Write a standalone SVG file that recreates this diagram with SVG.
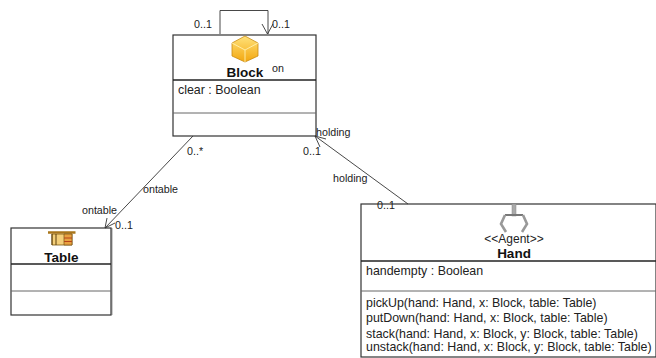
<svg xmlns="http://www.w3.org/2000/svg" width="656" height="358" viewBox="0 0 656 358">
<style>
text{font-family:"Liberation Sans",Arial,sans-serif;fill:#222}
.s{font-size:10.7px}
.m{font-size:12.4px}
.t{font-size:13.5px;font-weight:bold;text-anchor:middle;fill:#111}
.box{fill:#fff;stroke:#333;stroke-width:1.2}
.h{stroke:#222;stroke-width:1.6;fill:none}
.l{stroke:#666;stroke-width:1;fill:none}
.c{stroke:#333;stroke-width:.9;fill:none}
</style>
<defs>
<linearGradient id="cube" x1="0" y1="0" x2="0" y2="1"><stop offset="0" stop-color="#ffe27a"/><stop offset="1" stop-color="#f3a70f"/></linearGradient>
</defs>
<rect width="656" height="358" fill="#fff"/>
<g id="block">
<rect class="box" x="173" y="35" width="143" height="101"/>
<path d="M245 36L258 43V56L245 62L232 56V43Z" fill="url(#cube)" stroke="#c98c12" stroke-width=".8"/>
<path d="M232 43L245 50L258 43M245 50V62" fill="none" stroke="#fff0b0" stroke-width=".9"/>
<text class="t" x="245" y="77">Block</text>
<path class="h" d="M173 80H316"/>
<text class="m" x="178" y="94">clear : Boolean</text>
<path class="l" d="M173 113H316"/>
</g>
<g id="table">
<path d="M112 228V315" stroke="#bbb" stroke-width="1.500"/>
<rect class="box" x="11" y="228" width="100" height="87"/>
<path d="M52 234H72V245H52Z" fill="#f4cf7a" stroke="#7a5510" stroke-width=".8"/>
<path d="M48 232.500H75.500" stroke="#a9761a" stroke-width="2.500"/>
<path d="M52 234V245M56 234V245" stroke="#5c3f0a" stroke-width="1"/>
<path d="M64 234H72V245H64Z" fill="#e8a040" stroke="#7a5510" stroke-width=".7"/>
<path d="M64 238H72M64 241.500H72" stroke="#b5441a" stroke-width="1"/>
<text class="t" x="61.500" y="262">Table</text>
<path class="h" d="M11 264H111"/>
<path class="l" d="M11 291H111"/>
</g>
<g id="hand">
<rect class="box" x="361" y="204" width="295" height="153"/>
<rect x="512" y="204" width="4" height="12" fill="#aaa" stroke="#888" stroke-width=".5"/>
<path d="M505 215H523" stroke="#777" stroke-width="2"/>
<path d="M505 215L501 224L506 232M523 215L527 224L522 232" stroke="#999" stroke-width="2.600" fill="none"/>
<text x="514" y="243" font-size="12" text-anchor="middle">&lt;&lt;Agent&gt;&gt;</text>
<text class="t" x="514" y="258">Hand</text>
<path class="h" d="M361 261H656"/>
<text class="m" x="366" y="275">handempty : Boolean</text>
<path class="l" d="M361 291H656"/>
<text class="m" x="366" y="307">pickUp(hand: Hand, x: Block, table: Table)</text>
<text class="m" x="366" y="322">putDown(hand: Hand, x: Block, table: Table)</text>
<text class="m" x="366" y="338">stack(hand: Hand, x: Block, y: Block, table: Table)</text>
<text class="m" x="366" y="351">unstack(hand: Hand, x: Block, y: Block, table: Table)</text>
</g>
<g id="connectors">
<path class="c" d="M220 34V10.500H268V34"/>
<path class="c" d="M262 24L267.500 34L273 24"/>
<path class="c" d="M193 136L105 228"/>
<path class="c" d="M107 218L105 228L115 223"/>
<path class="c" d="M408 204L315 136"/>
<path class="c" d="M326 139L315 136L320 147"/>
<text class="s" x="194" y="28">0..1</text>
<text class="s" x="272" y="28">0..1</text>
<text class="s" x="272" y="72">on</text>
<text class="s" x="187" y="155">0..*</text>
<text class="s" x="316" y="136">holding</text>
<text class="s" x="303" y="155">0..1</text>
<text class="s" x="333" y="182">holding</text>
<text class="s" x="143" y="193">ontable</text>
<text class="s" x="82" y="214">ontable</text>
<text class="s" x="115" y="229">0..1</text>
<text class="s" x="377" y="209">0..1</text>
</g>
</svg>
